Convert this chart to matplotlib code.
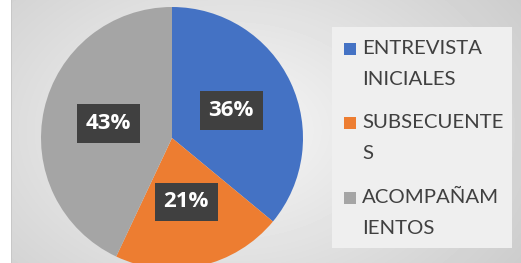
import numpy as np
import matplotlib.pyplot as plt
from matplotlib.patches import Rectangle

# Chart data
categories = ["ENTREVISTA\nINICIALES", "SUBSECUENTE\nS", "ACOMPAÑAM\nIENTOS"]
shares = [36, 21, 43]
colors = ["#4472c4", "#ed7d31", "#a5a5a5"]

W, H = 521, 263
fig = plt.figure(figsize=(W / 100, H / 100), dpi=100)
ax = fig.add_axes([0, 0, 1, 1])
ax.set_xlim(0, W)
ax.set_ylim(0, H)
ax.set_aspect("equal")
ax.axis("off")

# gray radial background (white strip on the left)
yy, xx = np.mgrid[0:H, 0:W]
d = np.sqrt(((xx - 230) / 330.0) ** 2 + ((yy - 130) / 230.0) ** 2)
shade = np.clip(0.97 - 0.16 * d, 0.80, 0.97)
shade[:, :11] = 1.0
shade[:, 11:12] = 0.78
ax.imshow(shade, cmap="gray", vmin=0, vmax=1, extent=[0, W, 0, H],
          origin="upper", zorder=0, interpolation="bilinear")

# legend panel
ax.add_patch(Rectangle((332, H - 248), 180, 221, facecolor="#efefef",
                       edgecolor="none", zorder=1))

wedges, _, autotexts = ax.pie(
    shares, colors=colors, startangle=90, counterclock=False,
    center=(172, H - 138), radius=131, pctdistance=0.5,
    autopct=lambda p: f"{p:.0f}%",
    textprops=dict(color="white", fontsize=16, fontweight="bold",
                   family="Open Sans"),
    wedgeprops=dict(linewidth=0),
)
for w in wedges:
    w.set_zorder(2)
for t in autotexts:
    t.set_zorder(4)
    t.set_bbox(dict(boxstyle="square,pad=0.4", facecolor="#404040",
                    edgecolor="none"))

ax.set_xlim(0, W)
ax.set_ylim(0, H)

# legend entries
ys = [H - 49, H - 123, H - 198]
for lab, col, y in zip(categories, colors, ys):
    ax.add_patch(Rectangle((344, y - 6), 12, 12, facecolor=col,
                           edgecolor="none", zorder=3))
    ax.text(362, y + 9, lab, fontsize=14.7, color="#404040", family="Lato",
            va="top", ha="left", linespacing=2.0, zorder=3)

fig.savefig("out.png", dpi=100)
